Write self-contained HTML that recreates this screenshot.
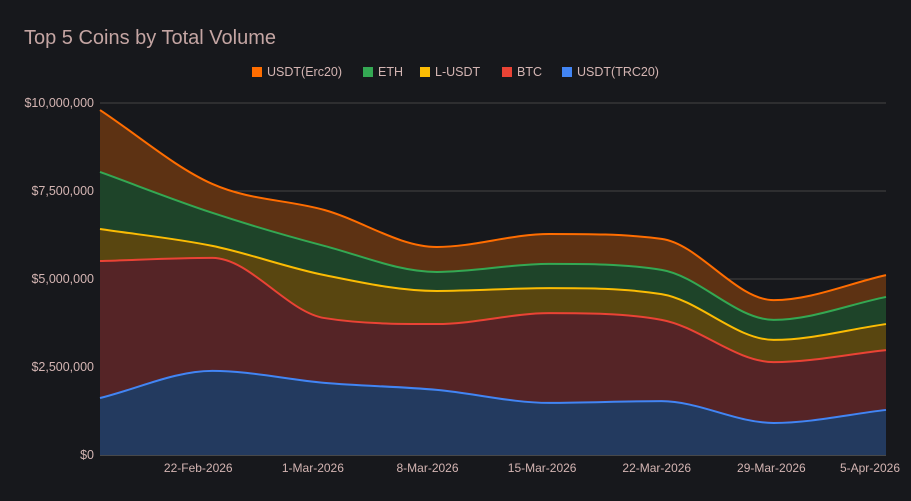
<!DOCTYPE html>
<html><head><meta charset="utf-8"><style>
html,body{margin:0;padding:0;background:#17181c;width:911px;height:501px;overflow:hidden}
svg{display:block;font-family:"Liberation Sans",Arial,sans-serif}
</style></head><body>
<svg id="c" width="911" height="501">
<rect width="911" height="501" fill="#17181c"/>
<text x="24" y="44" font-size="20" fill="#c4a5a3">Top 5 Coins by Total Volume</text>
<g id="grid"></g><g id="areas"></g><g id="lines"></g><g id="axes"></g><g id="legend"></g>
</svg>
<script>
const seriesNames=["USDT(TRC20)","BTC","L-USDT","ETH","USDT(Erc20)"];
const dayOffsets=[0,6.86,13.71,20.57,27.43,34.29,41.14,48];
const trc20=[1.62,2.39,2.05,1.85,1.48,1.53,0.91,1.28];
const btc=[3.89,3.21,1.84,1.87,2.55,2.31,1.73,1.70];
const lusdt=[0.91,0.34,1.22,0.94,0.71,0.73,0.63,0.74];
const eth=[1.62,0.94,0.83,0.54,0.69,0.69,0.57,0.77];
const erc20=[1.76,0.82,1.02,0.71,0.85,0.88,0.56,0.62];
const yTicks=[0,2.5,5,7.5,10];
const yTickLabels=["$0","$2,500,000","$5,000,000","$7,500,000","$10,000,000"];
const xTickDays=[6,13,20,27,34,41,48];
const xTickLabels=["22-Feb-2026","1-Mar-2026","8-Mar-2026","15-Mar-2026","22-Mar-2026","29-Mar-2026","5-Apr-2026"];
const lineColors=["#4285f4","#ea4335","#fbbc04","#34a853","#ff6d00"];
const fillColors=["#233a5f","#552426","#594610","#1e4429","#5d3213"];
const X0=100,X1=886,Y0=455,Y1=103;
const xs=d=>X0+(X1-X0)*d/48;
const ys=v=>Y0-(Y0-Y1)*v/10;
const NS="http://www.w3.org/2000/svg";
function mk(t,a,p){const e=document.createElementNS(NS,t);for(const k in a)e.setAttribute(k,a[k]);p.appendChild(e);return e;}
const G=document.getElementById('grid'),A=document.getElementById('areas'),L=document.getElementById('lines'),AX=document.getElementById('axes'),LG=document.getElementById('legend');
yTicks.forEach((t,i)=>{
 const l=mk('line',{x1:X0,x2:X1,y1:ys(t),y2:ys(t),stroke:i==0?'#777':'#444','stroke-width':1},G);
 
 
 const tx=mk('text',{x:94,y:ys(t)+4,'text-anchor':'end','font-size':12.5,fill:'#d4b5b3'},AX);
 tx.textContent=yTickLabels[i];
 
 
});
xTickDays.forEach((d,i)=>{
 let x=xs(d);const anchor=x>870?'end':'middle';if(x>870)x=900;
 const tx=mk('text',{x:x,y:472,'text-anchor':anchor,'font-size':12,fill:'#d4b5b3'},AX);
 tx.textContent=xTickLabels[i];
 
 
});
const series=[trc20,btc,lusdt,eth,erc20];
const cum=[];let acc=dayOffsets.map(()=>0);
series.forEach(s=>{acc=acc.map((v,i)=>v+s[i]);cum.push(acc.slice());});
function pts(arr){return arr.map((v,i)=>[xs(dayOffsets[i]),ys(v)]);}
function curve(p,move){
 const n=p.length,dx=[],m=[],t=[];
 for(let i=0;i<n-1;i++){dx[i]=p[i+1][0]-p[i][0];m[i]=(p[i+1][1]-p[i][1])/dx[i];}
 t[0]=m[0];t[n-1]=m[n-2];
 for(let i=1;i<n-1;i++){t[i]=m[i-1]*m[i]<=0?0:(m[i-1]+m[i])/2;}
 for(let i=0;i<n-1;i++){if(m[i]==0){t[i]=t[i+1]=0;continue;}const a=t[i]/m[i],b=t[i+1]/m[i],h=a*a+b*b;if(h>9){const s=3/Math.sqrt(h);t[i]=s*a*m[i];t[i+1]=s*b*m[i];}}
 let d=(move?'M':'L')+p[0][0]+','+p[0][1];
 for(let i=0;i<n-1;i++){const h=dx[i]/3;d+=' C'+(p[i][0]+h)+','+(p[i][1]+t[i]*h)+' '+(p[i+1][0]-h)+','+(p[i+1][1]-t[i+1]*h)+' '+p[i+1][0]+','+p[i+1][1];}
 return d;
}
cum.forEach((c,k)=>{
 const top=pts(c);
 const bot=k==0?[[X1,Y0],[X0,Y0]]:pts(cum[k-1]).reverse();
 let d=curve(top,true);
 d+=k==0?' L'+X1+','+Y0+' L'+X0+','+Y0:' '+curve(bot,false);
 const a=mk('path',{d:d+' Z',fill:fillColors[k]},A);
 
 
 const l=mk('path',{d:curve(top,true),fill:'none',stroke:lineColors[k],'stroke-width':2},L);
 
 
});
const legX=[252,363,420,502,562];
[4,3,2,1,0].forEach((k,i)=>{
 const g=mk('g',{},LG);
 
 
 mk('rect',{x:legX[i],y:67,width:10,height:10,fill:lineColors[k]},g);
 const t=mk('text',{x:legX[i]+15,y:76,'font-size':12.5,fill:'#d4b5b3'},g);
 t.textContent=seriesNames[k];
});
</script>
</body></html>
